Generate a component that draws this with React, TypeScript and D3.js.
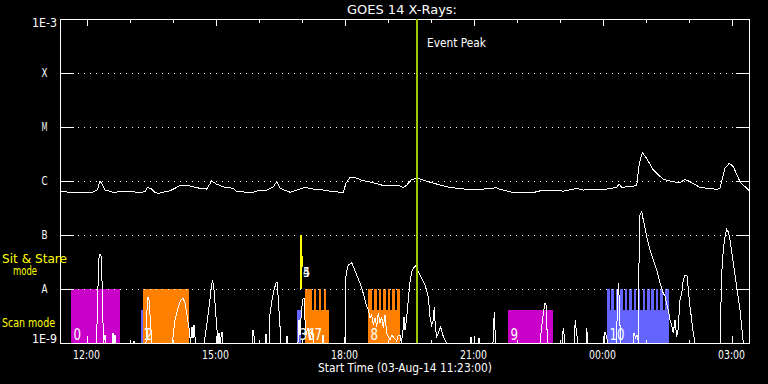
import React from "react";
import * as d3 from "d3";

// ---------- data ----------
// time in decimal hours of 03-Aug-14 (values > 24 belong to 04-Aug)
const timeStart = 11 + 23 / 60;
const timeEnd = 27.43;

const yTickValues = [1e-9, 1e-8, 1e-7, 1e-6, 1e-5, 1e-4, 1e-3];
const yTickLabels = ["1E-9", "A", "B", "C", "M", "X", "1E-3"];
const gridValues = [1e-8, 1e-7, 1e-6, 1e-5, 1e-4];

const hourTicks = [12, 13, 14, 15, 16, 17, 18, 19, 20, 21, 22, 23, 24, 25, 26, 27];
const majorHours = [12, 15, 18, 21, 24, 27];
const majorLabels = ["12:00", "15:00", "18:00", "21:00", "00:00", "03:00"];

// GOES 14 long channel (1-8 A), W/m^2
const longChannel: [number, number][] = [
  [11.383, 6.3e-7], [12.12, 6.1e-7], [12.251, 6.8e-7], [12.314, 1.01e-6], [12.376, 8.4e-7],
  [12.43, 6.8e-7], [12.616, 6.2e-7], [13.081, 6.5e-7], [13.167, 6.1e-7], [13.36, 6.3e-7],
  [13.414, 7.6e-7], [13.493, 7.3e-7], [13.593, 6.1e-7], [13.669, 5.9e-7], [13.942, 6.6e-7],
  [14.174, 8.2e-7], [14.33, 8.4e-7], [14.639, 7.3e-7], [14.795, 7.1e-7], [14.911, 1.0e-6],
  [15.028, 8.7e-7], [15.181, 7.8e-7], [15.414, 7.3e-7], [15.493, 6.3e-7], [15.879, 6.2e-7],
  [16.035, 6.8e-7], [16.19, 6.8e-7], [16.344, 7.8e-7], [16.423, 9.7e-7], [16.5, 7.3e-7],
  [16.732, 6.2e-7], [16.888, 6.8e-7], [17.081, 7.6e-7], [17.274, 7.1e-7], [17.507, 6.8e-7],
  [17.739, 6.3e-7], [17.972, 6.2e-7], [18.035, 9.1e-7], [18.128, 1.17e-6], [18.244, 1.16e-6],
  [18.437, 1.01e-6], [18.67, 9.3e-7], [18.865, 8.4e-7], [19.29, 8.1e-7], [19.367, 7.5e-7],
  [19.446, 8.4e-7], [19.563, 1.07e-6], [19.716, 1.12e-6], [19.833, 1.04e-6], [20.065, 9.1e-7],
  [20.453, 7.6e-7], [20.841, 7.0e-7], [21.151, 7.0e-7], [21.539, 7.5e-7], [21.616, 7.0e-7],
  [21.925, 6.1e-7], [22.39, 6.1e-7], [22.623, 6.8e-7], [23.088, 6.5e-7], [23.4, 7.3e-7],
  [23.553, 6.8e-7], [24.098, 7.1e-7], [24.33, 7.6e-7], [24.383, 8.8e-7], [24.446, 7.6e-7],
  [24.795, 8.2e-7], [24.855, 2.13e-6], [24.925, 3.34e-6], [25.027, 2.63e-6], [25.181, 1.6e-6],
  [25.414, 1.07e-6], [25.646, 9.7e-7], [25.802, 9.3e-7], [25.918, 1.07e-6], [26.035, 9.7e-7],
  [26.267, 7.6e-7], [26.655, 7.0e-7], [26.732, 7.3e-7], [26.849, 1.72e-6], [26.949, 2.13e-6],
  [27.042, 1.84e-6], [27.197, 9.7e-7], [27.353, 7.3e-7], [27.43, 6.5e-7],
];

// GOES 14 short channel (0.5-4 A), W/m^2 (1e-9 = floor of the plot)
const shortChannel: [number, number][] = [
  [11.383, 1e-9],
  [12.221, 1e-9], [12.255, 3.3e-9], [12.279, 3.44e-8], [12.314, 4.45e-8], [12.337, 4.1e-8], [12.36, 1.47e-8], [12.395, 1e-9],
  [12.43, 1.41e-9], [12.453, 1e-9],
  [12.593, 1e-9], [12.616, 1.53e-9], [12.639, 1e-9], [12.663, 1.41e-9], [12.686, 1e-9],
  [13.081, 1e-9], [13.104, 1.09e-9], [13.128, 1e-9],
  [13.383, 1e-9], [13.407, 4.1e-9], [13.43, 7.1e-9], [13.453, 6.3e-9], [13.477, 3.3e-9], [13.5, 1.74e-9], [13.523, 1e-9],
  [13.988, 1e-9], [14.011, 1.29e-9], [14.058, 2.67e-9], [14.104, 3.75e-9], [14.151, 5.1e-9], [14.197, 6.3e-9],
  [14.244, 6.8e-9], [14.29, 5.5e-9], [14.337, 3.3e-9], [14.383, 1.9e-9], [14.418, 1e-9], [14.453, 1.98e-9],
  [14.477, 1.24e-9], [14.5, 2.15e-9], [14.535, 1e-9],
  [14.732, 1e-9], [14.756, 1.29e-9], [14.802, 2.35e-9], [14.849, 4.6e-9], [14.895, 9.6e-9], [14.93, 1.47e-8],
  [14.965, 9.6e-9], [15.0, 4.1e-9], [15.035, 1.74e-9], [15.058, 1e-9], [15.081, 1.53e-9], [15.104, 1e-9],
  [15.151, 1.6e-9], [15.174, 1e-9],
  [15.849, 1e-9], [15.872, 1.74e-9], [15.895, 1.35e-9], [15.918, 1e-9],
  [16.151, 1e-9], [16.174, 1.47e-9], [16.198, 1e-9],
  [16.244, 1e-9], [16.267, 3.44e-9], [16.314, 6.3e-9], [16.36, 9.6e-9], [16.407, 1.29e-8], [16.43, 1.35e-8],
  [16.453, 7.7e-9], [16.488, 2.9e-9], [16.523, 1e-9],
  [16.639, 1e-9], [16.663, 1.35e-9], [16.686, 1e-9],
  [16.918, 1e-9], [16.942, 2.67e-9], [16.965, 1.41e-9], [16.988, 2.9e-9], [17.023, 6.3e-9], [17.058, 6.8e-9],
  [17.081, 2.67e-9], [17.104, 1.41e-9], [17.151, 1.9e-9], [17.197, 1.14e-9], [17.244, 1.74e-9], [17.29, 1e-9],
  [17.477, 1e-9], [17.5, 1.41e-9], [17.523, 1e-9],
  [18.011, 1e-9], [18.018, 1.29e-8], [18.046, 2.07e-8], [18.088, 2.78e-8], [18.167, 3.07e-8], [18.283, 1.82e-8],
  [18.36, 1.29e-8], [18.437, 8.3e-9], [18.516, 4.7e-9], [18.553, 4.1e-9], [18.593, 2.9e-9], [18.632, 3.3e-9],
  [18.669, 2.15e-9], [18.709, 2.9e-9], [18.748, 2.0e-9], [18.786, 3.6e-9], [18.825, 2.35e-9], [18.864, 3.0e-9],
  [18.902, 1.9e-9], [18.941, 3.3e-9], [18.981, 1.53e-9], [19.018, 1.31e-9], [19.058, 1.14e-9], [19.104, 1.41e-9],
  [19.151, 1.24e-9], [19.213, 1.09e-9], [19.244, 1.35e-9], [19.29, 1.41e-9], [19.325, 1e-9],
  [19.36, 1.74e-9], [19.383, 3.07e-9], [19.407, 1.74e-9], [19.446, 2.9e-9], [19.483, 6.3e-9], [19.523, 1.36e-8],
  [19.562, 2.09e-8], [19.6, 2.42e-8], [19.646, 2.67e-8], [19.716, 2.09e-8], [19.795, 1.58e-8], [19.872, 1.19e-8],
  [19.949, 7.2e-9], [19.988, 3.07e-9], [20.028, 2.15e-9], [20.065, 2.67e-9], [20.088, 4.7e-9], [20.111, 2.0e-9],
  [20.144, 1.31e-9], [20.181, 1.53e-9], [20.237, 2.0e-9], [20.284, 1.41e-9], [20.337, 1.14e-9], [20.372, 1e-9],
  [20.918, 1e-9], [20.942, 1.29e-9], [20.965, 1e-9],
  [21.105, 1e-9], [21.128, 1.24e-9], [21.151, 1e-9],
  [21.453, 1e-9], [21.483, 3.8e-9], [21.512, 1e-9],
  [22.546, 1e-9], [22.586, 1.98e-9], [22.623, 3.55e-9], [22.663, 5.4e-9], [22.686, 5.1e-9], [22.716, 1.31e-9], [22.733, 1e-9],
  [23.058, 1e-9], [23.088, 1.9e-9], [23.128, 1e-9],
  [23.337, 1e-9], [23.367, 2.67e-9], [23.395, 1.53e-9], [23.43, 1e-9],
  [23.616, 1e-9], [23.632, 1.9e-9], [23.663, 1e-9],
  [24.035, 1e-9], [24.058, 1.6e-9], [24.093, 1.31e-9], [24.128, 1e-9],
  [24.325, 1e-9], [24.349, 6.3e-9], [24.367, 1.29e-8], [24.391, 6.3e-9], [24.418, 1e-9],
  [24.709, 1e-9], [24.733, 1.53e-9], [24.768, 1.24e-9], [24.802, 1.41e-9], [24.839, 1e-9],
  [24.855, 2.18e-7], [24.911, 2.7e-7], [24.949, 1.9e-7], [25.028, 9.3e-8], [25.104, 5.3e-8], [25.181, 3.44e-8],
  [25.26, 2.25e-8], [25.337, 1.29e-8], [25.414, 8.3e-9], [25.453, 7.4e-9], [25.492, 5.4e-9], [25.53, 4.1e-9],
  [25.57, 2.67e-9], [25.609, 2.15e-9], [25.646, 1.53e-9], [25.686, 2.67e-9], [25.725, 1.31e-9], [25.756, 1.74e-9],
  [25.802, 6.3e-9], [25.842, 8.4e-9], [25.879, 1.47e-8], [25.918, 1.82e-8], [25.972, 1.74e-8], [25.995, 9.6e-9],
  [26.035, 4.7e-9], [26.074, 2.67e-9], [26.111, 1.51e-9], [26.151, 1e-9],
  [26.733, 1e-9], [26.772, 1.95e-8], [26.809, 5.3e-8], [26.849, 9.3e-8], [26.888, 1.28e-7], [26.925, 1.14e-7],
  [26.965, 8.1e-8], [27.042, 2.99e-8], [27.12, 1.1e-8], [27.197, 4.1e-9], [27.237, 2.0e-9], [27.275, 1e-9], [27.43, 1e-9],
];

// observations (numbered), colour group and mode
const obsLabels = ["0", "1", "2", "3", "6", "7", "8", "9", "10"];
const obsStart = [11.639, 13.267, 13.314, 16.895, 17.081, 17.244, 18.546, 21.802, 24.104];
const obsEnd = [12.779, 13.314, 14.383, 16.988, 17.244, 17.639, 19.29, 22.849, 25.546];
const obsGroup = ["m", "b", "o", "b", "o", "o", "o", "m", "b"];
const obsMode = ["stare", "scan", "stare", "scan", "stare", "scan", "scan", "scan", "scan"];

// sit & stare sub-intervals inside scan observations
const stareSegments: [number, number, string][] = [
  [17.29, 17.337, "o"], [17.407, 17.453, "o"], [17.523, 17.57, "o"],
  [18.546, 18.639, "o"], [18.686, 18.756, "o"], [18.802, 18.849, "o"], [18.895, 18.965, "o"],
  [19.011, 19.058, "o"], [19.104, 19.174, "o"], [19.221, 19.29, "o"],
  [24.104, 24.174, "b"], [24.209, 24.267, "b"], [24.314, 24.372, "b"], [24.407, 24.477, "b"],
  [24.523, 24.581, "b"], [24.616, 24.686, "b"], [24.721, 24.779, "b"], [24.825, 24.883, "b"],
  [24.93, 24.988, "b"], [25.035, 25.093, "b"], [25.139, 25.197, "b"], [25.244, 25.302, "b"],
  [25.337, 25.407, "b"], [25.442, 25.546, "b"],
];
const modeTop: Record<string, number> = { stare: 1e-8, scan: 4.1e-9 };

// yellow markers (events 4 and 5)
const markerLabels = ["4", "5"];
const markerTime = [16.988, 17.023];
const markerLow = [1e-8, 2.55e-8];
const markerHigh = [1e-7, 4.1e-8];

const eventPeakTime = 19.686;

// ---------- styles ----------
const groupColor: Record<string, string> = { m: "#c800c8", b: "#6464ff", o: "#ff8000" };
const FONT = "'DejaVu Sans', sans-serif";

const W = 768;
const H = 384;
const L = 60, R = 750, T = 19, B = 343;

const x = d3.scaleLinear().domain([timeStart, timeEnd]).range([L, R]);
const y = d3.scaleLog().domain([1e-9, 1e-3]).range([B, T]);

const line = d3
  .line<[number, number]>()
  .x((d) => x(d[0]))
  .y((d) => y(Math.max(1e-9, d[1])));

function Txt(props: {
  x: number; y: number; children: string; size: number; fill?: string;
  anchor?: "start" | "middle" | "end"; len?: number;
}) {
  const { len } = props;
  return (
    <text
      x={props.x}
      y={props.y}
      fontFamily={FONT}
      fontSize={props.size}
      fill={props.fill || "#fff"}
      textAnchor={props.anchor || "start"}
      {...(len ? { textLength: len, lengthAdjust: "spacingAndGlyphs" } : {})}
    >
      {props.children}
    </text>
  );
}

export default function App() {
  return (
    <svg
      width={W}
      height={H}
      style={{ position: "fixed", left: 0, top: 0, display: "block", background: "#000" }}
    >
      <rect x={0} y={0} width={W} height={H} fill="#000" />

      {/* observation bars */}
      {obsLabels.map((lab, i) => (
        <rect
          key={"o" + i}
          x={x(obsStart[i])}
          width={x(obsEnd[i]) - x(obsStart[i])}
          y={y(modeTop[obsMode[i]])}
          height={B - y(modeTop[obsMode[i]])}
          fill={groupColor[obsGroup[i]]}
          shapeRendering="crispEdges"
        />
      ))}
      {stareSegments.map((s, i) => (
        <rect
          key={"s" + i}
          x={x(s[0])}
          width={x(s[1]) - x(s[0])}
          y={y(modeTop.stare)}
          height={B - y(modeTop.stare)}
          fill={groupColor[s[2]]}
          shapeRendering="crispEdges"
        />
      ))}

      {/* grid lines */}
      {gridValues.map((v, i) => (
        <g key={"g" + i} shapeRendering="crispEdges">
          <line x1={L + 14} x2={R - 14} y1={Math.round(y(v)) + 0.5} y2={Math.round(y(v)) + 0.5}
            stroke="#fff" strokeWidth={1} strokeDasharray="1 5" strokeDashoffset={-4} />
          <line x1={L} x2={L + 14} y1={Math.round(y(v)) + 0.5} y2={Math.round(y(v)) + 0.5} stroke="#fff" />
          <line x1={R - 14} x2={R} y1={Math.round(y(v)) + 0.5} y2={Math.round(y(v)) + 0.5} stroke="#fff" />
        </g>
      ))}

      {/* x ticks top and bottom */}
      {hourTicks.map((h, i) => {
        const len = majorHours.includes(h) ? 7 : 3.5;
        const xx = Math.round(x(h)) + 0.5;
        return (
          <g key={"t" + i} shapeRendering="crispEdges">
            <line x1={xx} x2={xx} y1={T} y2={T + len} stroke="#fff" />
            <line x1={xx} x2={xx} y1={B} y2={B - len} stroke="#fff" />
          </g>
        );
      })}

      {/* GOES curves */}
      <path d={line(longChannel) || ""} fill="none" stroke="#fff" strokeWidth={1} shapeRendering="crispEdges" />
      <path d={line(shortChannel) || ""} fill="none" stroke="#fff" strokeWidth={1} shapeRendering="crispEdges" />

      {/* frame */}
      <rect x={L + 0.5} y={T + 0.5} width={R - L - 1} height={B - T} fill="none" stroke="#fff" strokeWidth={1}
        shapeRendering="crispEdges" />

      {/* bar labels */}
      {obsLabels.map((lab, i) => (
        <Txt key={"l" + i} x={x(obsStart[i]) + 2.5} y={B - 3.5} size={16.5} len={lab.length * 7.5}>
          {lab}
        </Txt>
      ))}

      {/* yellow markers */}
      {markerLabels.map((lab, i) => (
        <line key={"m" + i} x1={x(markerTime[i])} x2={x(markerTime[i])}
          y1={y(markerLow[i])} y2={y(markerHigh[i])}
          stroke="#ffff00" strokeWidth={i === 0 ? 2 : 1} shapeRendering="crispEdges" />
      ))}
      {markerLabels.map((lab, i) => (
        <Txt key={"ml" + i} x={x(markerTime[0]) + 2} y={y(1e-8) - 12} size={14} len={7}>
          {lab}
        </Txt>
      ))}

      {/* event peak */}
      <line x1={x(eventPeakTime)} x2={x(eventPeakTime)} y1={T} y2={B} stroke="#a0c800" strokeWidth={2}
        shapeRendering="crispEdges" />
      <Txt x={x(eventPeakTime) + 10} y={47} size={12.5} len={59}>Event Peak</Txt>

      {/* y labels */}
      {yTickValues.map((v, i) => (
        <Txt key={"y" + i} x={44.5} y={Math.min(B, Math.max(27, y(v) + 4))} size={11.5} anchor="middle"
          len={yTickLabels[i].length > 1 ? 25 : 6}>
          {yTickLabels[i]}
        </Txt>
      ))}

      {/* x labels */}
      {majorHours.map((h, i) => (
        <Txt key={"x" + i} x={x(h)} y={359} size={11.5} anchor="middle" len={27}>
          {majorLabels[i]}
        </Txt>
      ))}
      <Txt x={405} y={372} size={11.5} anchor="middle" len={174}>Start Time (03-Aug-14 11:23:00)</Txt>

      {/* title */}
      <Txt x={402} y={14} size={12.5} anchor="middle" len={110}>GOES 14 X-Rays:</Txt>

      {/* mode legend */}
      <Txt x={2} y={263} size={13} fill="#ffff00" len={65}>Sit &amp; Stare</Txt>
      <Txt x={13} y={275} size={12.5} fill="#ffff00" len={24}>mode</Txt>
      <Txt x={2} y={327} size={12.5} fill="#ffff00" len={53}>Scan mode</Txt>
    </svg>
  );
}
